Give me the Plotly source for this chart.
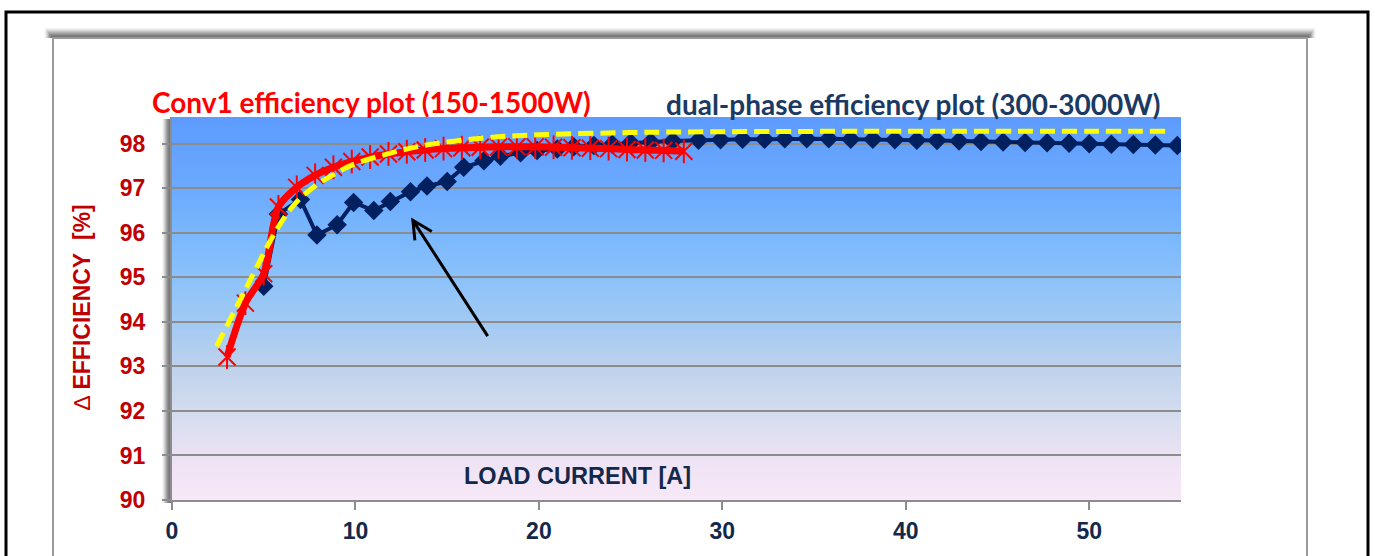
import plotly.graph_objects as go

# ---- data -------------------------------------------------------------
# Conv1 converter (150-1500 W): load current [A] vs efficiency [%]
conv1_current = [3.0, 4.0, 5.0, 5.8, 6.8, 7.8, 8.8, 9.8, 10.8, 11.8, 12.8, 13.8,
                 14.8, 15.8, 16.8, 17.8, 18.8, 19.8, 20.8, 21.8, 22.8, 23.8,
                 24.8, 25.8, 26.8, 27.9]
conv1_eff = [93.21, 94.42, 95.08, 96.58, 97.02, 97.29, 97.47, 97.60, 97.70,
             97.77, 97.82, 97.86, 97.89, 97.91, 97.92, 97.93, 97.93, 97.93,
             97.92, 97.91, 97.90, 97.89, 97.87, 97.86, 97.85, 97.83]

# dual-phase converter (300-3000 W)
dual_current = [5.0, 5.8, 7.0, 7.9, 9.0, 9.9, 11.0, 11.9, 13.0, 13.9, 15.0, 15.9,
                17.0, 17.9, 19.0, 19.9, 21.0, 21.9, 23.0, 24.0, 25.0, 26.1, 27.3,
                28.7, 29.9, 31.1, 32.3, 33.4, 34.6, 35.8, 37.0, 38.2, 39.4, 40.6,
                41.7, 42.9, 44.1, 45.3, 46.5, 47.7, 48.9, 50.0, 51.2, 52.4, 53.6,
                54.8]
dual_eff = [94.80, 96.42, 96.75, 95.95, 96.18, 96.68, 96.50, 96.70, 96.92, 97.05,
            97.15, 97.47, 97.62, 97.72, 97.80, 97.85, 97.88, 97.93, 97.96, 97.99,
            98.02, 98.04, 98.06, 98.08, 98.09, 98.10, 98.10, 98.11, 98.11, 98.11,
            98.10, 98.10, 98.09, 98.08, 98.07, 98.06, 98.05, 98.04, 98.03, 98.02,
            98.01, 98.00, 97.99, 97.98, 97.97, 97.96]

# trend curve (yellow dashed)
trend_current = [2.43, 3.6, 4.4, 5.2, 5.9, 6.7, 7.8, 8.9, 9.8, 12.0, 14.0, 17.0,
                 20.0, 25.0, 30.0, 40.0, 54.4]
trend_eff = [93.45, 94.40, 95.05, 95.70, 96.20, 96.65, 97.05, 97.33, 97.52,
             97.80, 97.98, 98.13, 98.20, 98.25, 98.27, 98.28, 98.28]

x_ticks = [0, 10, 20, 30, 40, 50]
y_ticks = [90, 91, 92, 93, 94, 95, 96, 97, 98]

# ---- layout geometry (pixels) ----------------------------------------
W, H = 1375, 556
L, R, T, B = 172, 194, 117, 56
PW, PH = W - L - R, H - T - B


def px_x(px):
    return (px - L) / PW


def px_y(py):
    return (H - B - py) / PH


NAVY = "#002060"
RED = "#FF0000"
DARK_RED = "#C00000"
TEXT_NAVY = "#14284B"

fig = go.Figure()

fig.add_trace(go.Scatter(
    x=dual_current, y=dual_eff, mode="lines+markers",
    line=dict(color=NAVY, width=4),
    marker=dict(symbol="diamond", size=15, color=NAVY),
    hoverinfo="x+y", showlegend=False))

fig.add_trace(go.Scatter(
    x=conv1_current, y=conv1_eff, mode="lines",
    line=dict(color=RED, width=7, shape="spline", smoothing=0.8),
    hoverinfo="skip", showlegend=False))
# star markers: an X plus a vertical stroke
fig.add_trace(go.Scatter(
    x=conv1_current, y=conv1_eff, mode="markers",
    marker=dict(symbol="x-thin-open", size=17, color=RED, line=dict(color=RED, width=2)),
    hoverinfo="x+y", showlegend=False))
fig.add_trace(go.Scatter(
    x=conv1_current, y=conv1_eff, mode="markers",
    marker=dict(symbol="line-ns-open", size=17, color=RED, line=dict(color=RED, width=2)),
    hoverinfo="skip", showlegend=False))

fig.add_trace(go.Scatter(
    x=trend_current, y=trend_eff, mode="lines",
    line=dict(color="#FFFF00", width=5, dash="15px,7px", shape="spline", smoothing=1.0),
    hoverinfo="skip", showlegend=False))

shapes = []

# outer frame and chart panel
shapes.append(dict(type="rect", xref="paper", yref="paper", layer="below",
                   x0=px_x(6), x1=px_x(1368), y0=px_y(600), y1=px_y(12),
                   line=dict(color="black", width=3), fillcolor="white"))
for i in range(10):
    a = 0.02 + 0.03 * i
    shapes.append(dict(type="rect", xref="paper", yref="paper", layer="below",
                       x0=px_x(44 + i * 0.8), x1=px_x(1316 - i * 0.8),
                       y0=px_y(38), y1=px_y(27 + i),
                       line=dict(width=0), fillcolor=f"rgba(90,90,90,{a:.3f})"))
shapes.append(dict(type="rect", xref="paper", yref="paper", layer="below",
                   x0=px_x(53), x1=px_x(1307), y0=px_y(600), y1=px_y(38),
                   line=dict(color="#9A9A9A", width=2), fillcolor="white"))

# shadow to the left of the plot area
for i in range(10):
    a = 0.05 + 0.06 * i
    shapes.append(dict(type="rect", xref="paper", yref="paper", layer="below",
                       x0=px_x(162 + i), x1=px_x(172), y0=px_y(503), y1=px_y(119),
                       line=dict(width=0), fillcolor=f"rgba(110,110,110,{a:.3f})"))

# vertical gradient of the plot area (blue at top to pale pink at bottom)
stops = [(0.00, (247, 232, 247)), (0.08, (240, 228, 245)), (0.20, (218, 222, 240)),
         (0.32, (195, 212, 236)), (0.45, (165, 202, 242)), (0.58, (140, 194, 250)),
         (0.72, (118, 180, 254)), (0.86, (104, 166, 255)), (1.00, (93, 155, 255))]


def grad(t):
    for (t0, c0), (t1, c1) in zip(stops[:-1], stops[1:]):
        if t0 <= t <= t1:
            f = (t - t0) / (t1 - t0)
            return tuple(round(c0[k] + f * (c1[k] - c0[k])) for k in range(3))
    return stops[-1][1]


N = 96
for i in range(N):
    y0, y1 = i / N, (i + 1) / N
    c = grad((y0 + y1) / 2)
    shapes.append(dict(type="rect", xref="x domain", yref="y domain", layer="below",
                       x0=0, x1=1, y0=y0, y1=min(1.0, y1 + 0.004),
                       line=dict(width=0), fillcolor=f"rgb{c}"))

# arrow pointing at the dual-phase dip
tip, tail = (13.13, 96.28), (17.21, 93.68)
arm_a, arm_b = (13.24, 95.83), (14.16, 96.03)
shapes.append(dict(type="path", xref="x", yref="y", layer="above",
                   path=(f"M{tail[0]},{tail[1]} L{tip[0]},{tip[1]} "
                         f"M{arm_a[0]},{arm_a[1]} L{tip[0]},{tip[1]} L{arm_b[0]},{arm_b[1]}"),
                   line=dict(color="black", width=3)))

annotations = [
    dict(text="<b>Conv1 efficiency plot (150-1500W)</b>", xref="paper", yref="paper",
         x=px_x(371.5), y=px_y(102), xanchor="center", yanchor="middle", showarrow=False,
         font=dict(family="Lato", size=28, color=RED)),
    dict(text="<b>dual-phase efficiency plot (300-3000W)</b>", xref="paper", yref="paper",
         x=px_x(913), y=px_y(104), xanchor="center", yanchor="middle", showarrow=False,
         font=dict(family="Lato", size=28, color="#1B3A63")),
    dict(text="<span style='font-weight:normal'>\u2206</span><b>\u00a0EFFICIENCY\u00a0\u00a0[%]</b>",
         xref="paper", yref="paper", x=px_x(82), y=px_y(307), textangle=-90,
         xanchor="center", yanchor="middle", showarrow=False,
         font=dict(family="Liberation Sans", size=23, color=DARK_RED)),
    dict(text="<b>LOAD CURRENT [A]</b>", xref="paper", yref="paper",
         x=px_x(577), y=px_y(476), xanchor="center", yanchor="middle", showarrow=False,
         font=dict(family="Liberation Sans", size=23.5, color=TEXT_NAVY)),
]

fig.update_layout(
    width=W, height=H,
    margin=dict(l=L, r=R, t=T, b=B, pad=0),
    paper_bgcolor="white",
    plot_bgcolor="rgb(247,232,247)",
    shapes=shapes,
    annotations=annotations,
    showlegend=False,
    xaxis=dict(range=[0, 55], tickvals=x_ticks, showgrid=False, zeroline=False,
               automargin=False,
               showline=True, linecolor="#8C8C8C", linewidth=2,
               ticks="outside", ticklen=8, tickwidth=2, tickcolor="#8C8C8C",
               ticklabelstandoff=1,
               tickfont=dict(family="Liberation Sans", size=23, color=TEXT_NAVY, weight="bold")),
    yaxis=dict(range=[90, 98.6], tickvals=y_ticks, showgrid=True, gridcolor="#8C8C8C",
               automargin=False,
               gridwidth=2, zeroline=False, showline=True, linecolor="#8C8C8C", linewidth=2,
               ticks="outside", ticklen=8, tickwidth=2, tickcolor="#8C8C8C",
               ticklabelstandoff=12,
               tickfont=dict(family="Liberation Sans", size=23, color=DARK_RED, weight="bold")),
)

fig.write_html("out.html")
